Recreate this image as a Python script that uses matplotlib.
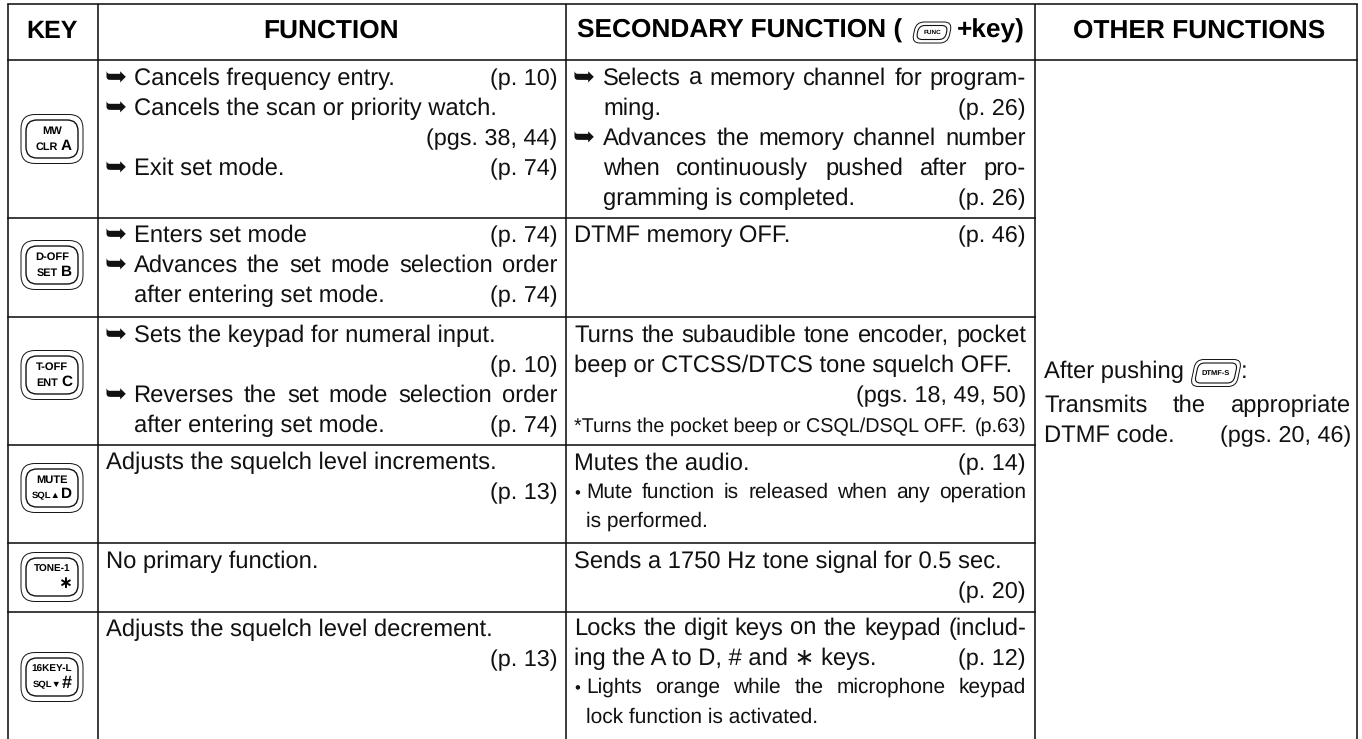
import matplotlib
matplotlib.use("Agg")
import matplotlib.pyplot as plt
from matplotlib.patches import FancyBboxPatch
from matplotlib.transforms import Affine2D

plt.rcParams['font.family'] = ['Liberation Sans', 'DejaVu Sans']
plt.rcParams['text.hinting'] = 'no_hinting'

headers = ["KEY", "FUNCTION", "OTHER FUNCTIONS"]
header_secondary = ["SECONDARY FUNCTION (", "FUNC", "+key)"]

key_top = ["MW", "D-OFF", "T-OFF", "MUTE", "TONE-1", "16KEY-L"]
key_small = ["CLR", "SET", "ENT", "SQL\u25b2", "", "SQL\u25bc"]
key_big = ["A", "B", "C", "D", "\u2217", "#"]

# (left text, page reference)
function_lines = [
    ("Cancels frequency entry.", "(p. 10)"),
    ("Cancels the scan or priority watch.", ""),
    ("", "(pgs. 38, 44)"),
    ("Exit set mode.", "(p. 74)"),
    ("Enters set mode", "(p. 74)"),
    ("Advances the set mode selection order", ""),
    ("after entering set mode.", "(p. 74)"),
    ("Sets the keypad for numeral input.", ""),
    ("", "(p. 10)"),
    ("Reverses the set mode selection order", ""),
    ("after entering set mode.", "(p. 74)"),
    ("Adjusts the squelch level increments.", ""),
    ("", "(p. 13)"),
    ("No primary function.", ""),
    ("Adjusts the squelch level decrement.", ""),
    ("", "(p. 13)"),
]
secondary_lines = [
    ("Selects a memory channel for program-", ""),
    ("ming.", "(p. 26)"),
    ("Advances the memory channel number", ""),
    ("when continuously pushed after pro-", ""),
    ("gramming is completed.", "(p. 26)"),
    ("DTMF memory OFF.", "(p. 46)"),
    ("Turns the subaudible tone encoder, pocket", ""),
    ("beep or CTCSS/DTCS tone squelch OFF.", ""),
    ("", "(pgs. 18, 49, 50)"),
    ("*Turns the pocket beep or CSQL/DSQL OFF.", "(p.63)"),
    ("Mutes the audio.", "(p. 14)"),
    ("Mute function is released when any operation", ""),
    ("is performed.", ""),
    ("Sends a 1750 Hz tone signal for 0.5 sec.", ""),
    ("", "(p. 20)"),
    ("Locks the digit keys on the keypad (includ-", ""),
    ("ing the A to D, # and \u2217 keys.", "(p. 12)"),
    ("Lights orange while the microphone keypad", ""),
    ("lock function is activated.", ""),
]
other_lines = [
    ("Transmits the appropriate", ""),
    ("DTMF code.", "(pgs. 20, 46)"),
]
other_first = ["After pushing", "DTMF-S", ":"]

# layout, in pixels of the 1362x739 picture
col_x = [7.5, 97.5, 566, 1035, 1357]
row_y = [3.5, 60, 218, 317, 445, 543, 611.5, 739]
key_y = [139, 265, 375, 488, 577, 677]
func_y = [85, 115, 145, 175, 242, 272, 302, 342, 372, 402, 432, 469, 499, 568, 636, 666]
func_kind = ['arrow', 'arrow', 'cont', 'arrow', 'arrow', 'arrow', 'cont', 'arrow', 'cont',
             'arrow', 'cont', 'plain', 'plain', 'plain', 'plain', 'plain']
func_just = [5, 9]
sec_y = [85, 115, 145, 175, 205, 242, 342, 372, 402, 432, 470, 498, 527, 568, 598, 635, 665, 693, 723]
sec_kind = ['arrow', 'cont', 'arrow', 'cont', 'cont', 'plain', 'plain', 'plain', 'plain', 'narrow',
            'plain', 'bullet', 'bullet_cont', 'plain', 'plain', 'plain', 'plain', 'bullet', 'bullet_cont']
sec_just = [0, 2, 3, 6, 15, 11, 17]
BODY = 17.1
REF = 16.8
SMALL = 15
NARROW = 14.2
HEAD = 18.9

fig = plt.figure(figsize=(13.62, 7.39), dpi=100)
ax = fig.add_axes([0, 0, 1, 1])
ax.set_xlim(0, 1362)
ax.set_ylim(739, 0)
ax.axis('off')
renderer = fig.canvas.get_renderer()


def width_of(t):
    return t.get_window_extent(renderer).width


def justified(x0, x1, y, text, size):
    words = [ax.text(x0, y, w, fontsize=size, va='baseline', color='#111111') for w in text.split()]
    widths = [width_of(w) for w in words]
    gap = (x1 - x0 - sum(widths)) / (len(words) - 1)
    x = x0
    for w, wd in zip(words, widths):
        w.set_x(x)
        x += wd + gap


def write_lines(lines, ys, kinds, just, x_plain, x_text, x_right):
    for i, (left, ref) in enumerate(lines):
        y = ys[i]
        kind = kinds[i]
        x = x_plain
        size = BODY
        if kind in ('arrow', 'cont'):
            x = x_text
        if kind == 'arrow':
            ax.text(x_plain - 1, y - 0.5, "\u27a5", fontsize=19, va='baseline', family='DejaVu Sans', color='#111111')
        if kind in ('bullet', 'bullet_cont'):
            x = x_plain + 12.5
            size = SMALL
        if kind == 'bullet':
            ax.text(x_plain, y, "\u2022", fontsize=SMALL - 3, va='baseline', color='#111111')
        if kind == 'narrow':
            size = NARROW
        if i in just:
            justified(x, x_right, y, left, size)
        elif left:
            ax.text(x, y, left, fontsize=size, va='baseline', color='#111111')
        if ref:
            ax.text(x_right, y, ref, fontsize=NARROW if kind == 'narrow' else REF, ha='right', va='baseline', color='#111111')


def rounded(cx, cy, w, h, r, lw, tr=None):
    p = FancyBboxPatch((cx - w / 2, cy - h / 2), w, h, boxstyle=f"round,pad=0,rounding_size={r}",
                       fc='white', ec='#111111', lw=lw, zorder=2)
    ax.add_patch(p)
    if tr is not None:
        p.set_transform(tr + ax.transData)


def slanted_key(cx, cy, w, h, label, size):
    tr = Affine2D().translate(-cx, -cy).skew_deg(-12, 0).translate(cx, cy)
    rounded(cx, cy, w, h, 8, 0.7, tr)
    rounded(cx, cy, w - 7, h - 7, 6, 0.8, tr)
    ax.text(cx, cy + 0.3, label, fontsize=size, fontweight='bold', ha='center', va='center', zorder=3)


# table lines
lc = '#111111'
lw = 1.15
for x in col_x:
    ax.plot([x, x], [row_y[0], row_y[-1]], color=lc, lw=lw, solid_capstyle='butt')
ax.plot([col_x[0], col_x[-1]], [row_y[0]] * 2, color=lc, lw=lw)
ax.plot([col_x[0], col_x[-1]], [row_y[1]] * 2, color=lc, lw=lw)
for y in row_y[2:-1]:
    ax.plot([col_x[0], col_x[3]], [y, y], color=lc, lw=lw)

# header
ax.text(52, 38, headers[0], fontsize=18, fontweight='bold', ha='center', va='baseline')
ax.text(331, 38, headers[1], fontsize=HEAD, fontweight='bold', ha='center', va='baseline')
ax.text(1199, 38, headers[2], fontsize=HEAD, fontweight='bold', ha='center', va='baseline')
ax.text(577, 38, header_secondary[0], fontsize=HEAD, fontweight='bold', va='baseline')
slanted_key(932, 32.5, 36, 21, header_secondary[1], 4.6)
ax.text(957, 38, header_secondary[2], fontsize=HEAD, fontweight='bold', va='baseline')

# key icons
for i, cy in enumerate(key_y):
    cx = 52
    rounded(cx, cy, 62, 49, 14, 0.7)
    rounded(cx, cy, 52, 38, 11, 1.0)
    top_size = 7.2 if len(key_top[i]) > 5 else 8
    ax.text(cx, cy - 5, key_top[i], fontsize=top_size, fontweight='bold', ha='center', va='baseline', zorder=3)
    big_size = [11, 11, 11, 11, 12, 13][i]
    big = ax.text(cx + 20, cy + 10.5, key_big[i], fontsize=big_size, fontweight='bold',
                  ha='right', va='baseline', zorder=3)
    if key_small[i]:
        sql = key_small[i].startswith("SQL")
        ax.text(cx + 20 - width_of(big) - (0 if sql else 3), cy + 10.5, key_small[i], fontsize=6.8 if sql else 7.8,
                fontweight='bold', ha='right', va='baseline', zorder=3)

write_lines(function_lines, func_y, func_kind, func_just, 106, 133.5, 557.5)
write_lines(secondary_lines, sec_y, sec_kind, sec_just, 574, 603, 1026)

# other functions cell
ax.text(1044, 378, other_first[0], fontsize=BODY, va='baseline', color='#111111')
slanted_key(1216, 373, 46, 27, other_first[1], 5.4)
ax.text(1241, 378, other_first[2], fontsize=BODY, va='baseline', color='#111111')
justified(1044, 1351, 412, other_lines[0][0], BODY)
ax.text(1044, 442, other_lines[1][0], fontsize=BODY, va='baseline', color='#111111')
ax.text(1351, 442, other_lines[1][1], fontsize=REF, ha='right', va='baseline', color='#111111')

fig.savefig("out.png", dpi=100)
